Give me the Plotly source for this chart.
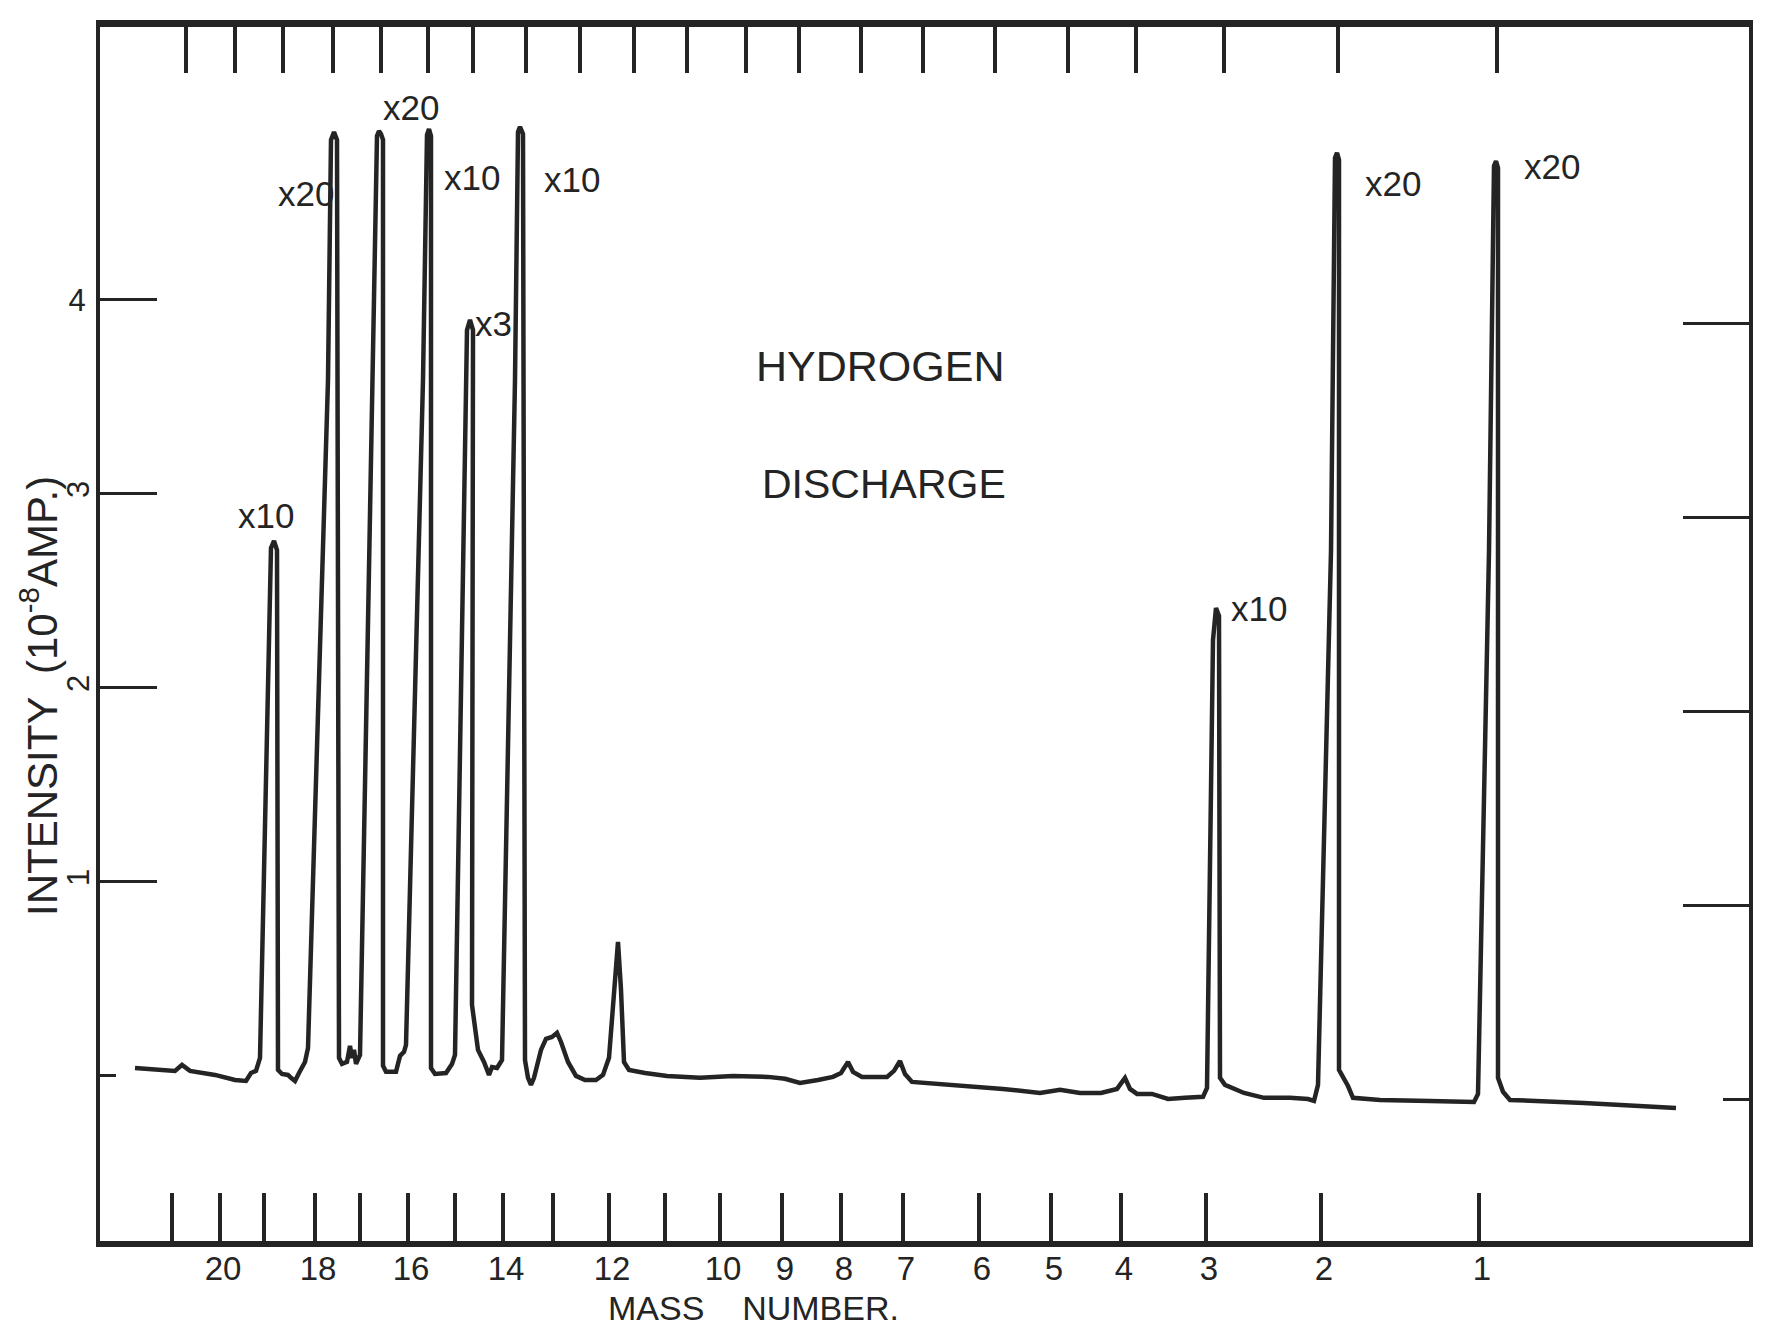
import plotly.graph_objects as go

# ---------------- data ----------------
# Mass-number markers on the recorder chart (chart position of each mass)
mass_numbers = [21, 20, 19, 18, 17, 16, 15, 14, 13, 12, 11, 10, 9, 8, 7, 6, 5, 4, 3, 2, 1]
mass_labels = ["", "20", "", "18", "", "16", "", "14", "", "12", "", "10",
               "9", "8", "7", "6", "5", "4", "3", "2", "1"]
mark_pos_bottom = [172, 220, 264, 315, 360, 408, 455, 503, 553, 609, 665, 720,
                   782, 841, 903, 979, 1051, 1121, 1206, 1321, 1479]
mark_pos_top = [186, 235, 283, 333, 381, 428, 473, 526, 580, 634, 687, 746,
                799, 861, 923, 995, 1068, 1136, 1224, 1338, 1497]

# Recorder trace: chart position vs intensity (10^-8 A)
scan_pos = [135, 160, 175, 182, 190, 215, 235, 246, 251, 256,
            260, 271, 274, 277, 278, 282, 288, 291, 295, 299,
            305, 308, 328, 331, 334, 337, 339, 342, 347, 350,
            352, 354, 356, 360, 373, 377, 379, 381, 383, 383,
            386, 396, 400, 404, 406, 423, 427, 429, 431, 431,
            435, 446, 452, 455, 467, 470, 473, 472, 478, 484,
            489, 492, 497, 502, 515, 518, 520, 523, 525, 528,
            531, 534, 541, 546, 552, 557, 561, 568, 576, 585,
            596, 603, 609, 615, 618, 621, 624, 629, 645, 667,
            700, 733, 768, 785, 800, 818, 833, 841, 848, 853,
            862, 887, 894, 900, 905, 912, 940, 972, 1003, 1040,
            1060, 1080, 1101, 1117, 1125, 1130, 1137, 1152, 1168, 1185,
            1203, 1207, 1213, 1216, 1219, 1220, 1225, 1244, 1264, 1290,
            1308, 1314, 1318, 1331, 1335, 1337, 1339, 1339, 1343, 1348,
            1353, 1380, 1430, 1474, 1478, 1489, 1494, 1496, 1498, 1498,
            1503, 1510, 1584, 1676]
intensity = [0.041, 0.031, 0.026, 0.057, 0.026, 0.005, -0.021, -0.026, 0.015, 0.026,
             0.093, 2.722, 2.758, 2.711, 0.031, 0.010, 0.005, -0.010, -0.026, 0.015,
             0.072, 0.144, 3.588, 4.825, 4.866, 4.825, 0.093, 0.062, 0.072, 0.155,
             0.093, 0.134, 0.062, 0.108, 3.588, 4.845, 4.871, 4.856, 4.825, 0.052,
             0.021, 0.021, 0.103, 0.124, 0.160, 3.588, 4.851, 4.881, 4.845, 0.041,
             0.010, 0.015, 0.062, 0.108, 3.845, 3.897, 3.845, 0.366, 0.134, 0.072,
             0.005, 0.046, 0.041, 0.082, 3.588, 4.866, 4.892, 4.856, 0.082, -0.010,
             -0.046, -0.010, 0.134, 0.191, 0.201, 0.222, 0.175, 0.072, 0.000, -0.021,
             -0.021, 0.005, 0.093, 0.546, 0.691, 0.443, 0.072, 0.031, 0.015, 0.000,
             -0.010, 0.000, -0.005, -0.015, -0.036, -0.021, -0.005, 0.015, 0.072, 0.021,
             -0.005, -0.005, 0.026, 0.077, 0.010, -0.031, -0.041, -0.057, -0.067, -0.088,
             -0.072, -0.088, -0.088, -0.067, -0.010, -0.067, -0.093, -0.093, -0.119, -0.113,
             -0.108, -0.062, 2.247, 2.412, 2.371, -0.010, -0.046, -0.088, -0.113, -0.113,
             -0.119, -0.129, -0.046, 2.706, 4.732, 4.758, 4.722, 0.031, -0.005, -0.052,
             -0.113, -0.124, -0.129, -0.134, -0.093, 2.706, 4.691, 4.716, 4.680, -0.010,
             -0.082, -0.124, -0.139, -0.165]

# Intensity scale ticks
left_ticks = [1, 2, 3, 4]
right_ticks = [1, 2, 3, 4]

# ---------------- styling ----------------
INK = "#242424"
FONT = "Liberation Sans"
X_RANGE = [100, 1749]
Y_RANGE = [-0.851, 5.407]
RIGHT_SHIFT = 0.12
Y2_RANGE = [Y_RANGE[0] + RIGHT_SHIFT, Y_RANGE[1] + RIGHT_SHIFT]

fig = go.Figure()
fig.add_trace(go.Scatter(x=scan_pos, y=intensity, mode="lines",
                         line=dict(color=INK, width=4.5), hoverinfo="skip",
                         showlegend=False))
for xa, ya in [("x2", "y"), ("x", "y2"), ("x", "y3"), ("x", "y4")]:
    fig.add_trace(go.Scatter(x=[], y=[], xaxis=xa, yaxis=ya, mode="lines",
                             showlegend=False, hoverinfo="skip"))

common = dict(showgrid=False, zeroline=False, tickcolor=INK, linecolor=INK)

fig.update_layout(
    width=1766, height=1328,
    margin=dict(l=100, r=17, t=27, b=87),
    paper_bgcolor="white", plot_bgcolor="white",
    showlegend=False,
    font=dict(family=FONT, color=INK),
    xaxis=dict(range=X_RANGE, tickmode="array", tickvals=mark_pos_bottom,
               ticktext=mass_labels, ticks="inside", ticklen=48, tickwidth=4,
               showline=True, linewidth=6, ticklabelstandoff=-7, ticklabelshift=3,
               tickfont=dict(family=FONT, size=33, color=INK), **common),
    xaxis2=dict(range=X_RANGE, overlaying="x", side="top", tickmode="array",
                tickvals=mark_pos_top, ticks="inside", ticklen=46, tickwidth=4,
                showticklabels=False, showline=True, linewidth=7, **common),
    yaxis=dict(range=Y_RANGE, tickmode="array", tickvals=left_ticks,
               ticktext=["", "", "", "4"], ticks="inside", ticklen=57, tickwidth=3,
               showline=True, linewidth=4, ticklabelstandoff=4,
               tickfont=dict(family=FONT, size=31, color=INK), **common),
    yaxis3=dict(range=Y_RANGE, overlaying="y", side="left", tickmode="array",
                tickvals=[0, 1, 2, 3], ticktext=["", "1", "2", "3"], tickangle=-90,
                ticks="inside", ticklen=16, tickwidth=3, showline=False,
                ticklabelstandoff=4,
                tickfont=dict(family=FONT, size=31, color=INK), **common),
    yaxis2=dict(range=Y2_RANGE, overlaying="y", side="right", tickmode="array",
                tickvals=right_ticks, ticks="inside", ticklen=66, tickwidth=3,
                showticklabels=False, showline=True, linewidth=4, **common),
    yaxis4=dict(range=Y2_RANGE, overlaying="y", side="right", tickmode="array",
                tickvals=[0], ticks="inside", ticklen=26, tickwidth=3,
                showticklabels=False, showline=False, **common),
)

ann_font = dict(family=FONT, size=35, color=INK)
peak_notes = [
    ("x10", 266, 2.89),
    ("x20", 306, 4.55),
    ("x20", 411, 4.99),
    ("x10", 472, 4.63),
    ("x3", 493, 3.88),
    ("x10", 572, 4.62),
    ("x10", 1259, 2.41),
    ("x20", 1393, 4.60),
    ("x20", 1552, 4.69),
]
for txt, ax_, ay_ in peak_notes:
    fig.add_annotation(text=txt, x=ax_, y=ay_, xref="x", yref="y",
                       xanchor="center", yanchor="middle",
                       showarrow=False, font=ann_font)

fig.add_annotation(text="HYDROGEN", x=880, y=3.66, xref="x", yref="y",
                   xanchor="center", yanchor="middle",
                   showarrow=False, font=dict(family=FONT, size=43, color=INK))
fig.add_annotation(text="DISCHARGE", x=884, y=3.05, xref="x", yref="y",
                   xanchor="center", yanchor="middle",
                   showarrow=False, font=dict(family=FONT, size=41, color=INK))

fig.add_annotation(text="MASS    NUMBER.", x=753, y=-0.0552, xref="x", yref="paper",
                   xanchor="center", yanchor="middle",
                   showarrow=False, font=dict(family=FONT, size=34, color=INK))
fig.add_annotation(text="INTENSITY  (10<sup>-8</sup>AMP.)", x=-0.0370, y=0.449,
                   xref="paper", yref="paper", textangle=-90, showarrow=False,
                   xanchor="center", yanchor="middle",
                   font=dict(family=FONT, size=42, color=INK))

fig.write_html("out.html")
